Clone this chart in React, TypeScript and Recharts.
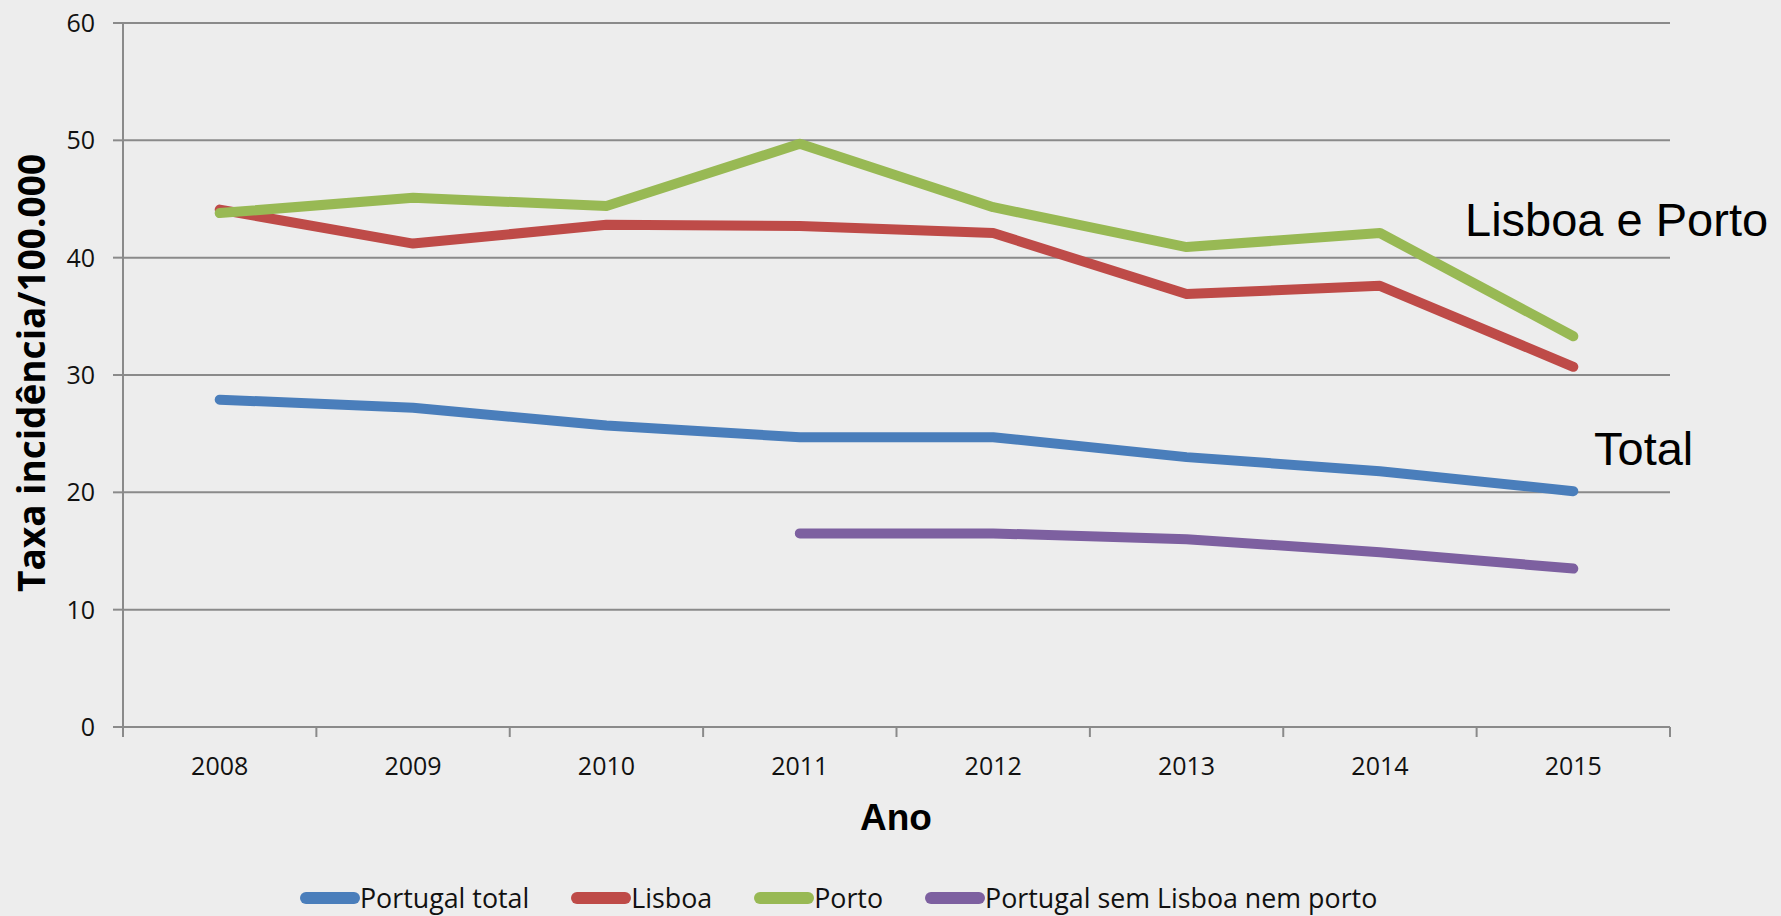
import React from 'react';
import { LineChart, Line, XAxis, YAxis, CartesianGrid } from 'recharts';

const years = ['2008', '2009', '2010', '2011', '2012', '2013', '2014', '2015'];
const portugalTotal = [27.9, 27.2, 25.7, 24.7, 24.7, 23.0, 21.8, 20.1];
const lisboa = [44.1, 41.2, 42.8, 42.7, 42.1, 36.9, 37.6, 30.7];
const porto = [43.8, 45.1, 44.4, 49.7, 44.3, 40.9, 42.1, 33.3];
const semLisboaPorto = [null, null, null, 16.5, 16.5, 16.0, 14.9, 13.5];
const yTicks = [0, 10, 20, 30, 40, 50, 60];

const series = [
  { key: 'total', name: 'Portugal total', color: '#4a7ebb', values: portugalTotal },
  { key: 'lisboa', name: 'Lisboa', color: '#be4b48', values: lisboa },
  { key: 'porto', name: 'Porto', color: '#98b954', values: porto },
  { key: 'resto', name: 'Portugal sem Lisboa nem porto', color: '#7d60a0', values: semLisboaPorto },
];

const data = years.map((year, i) => {
  const row: Record<string, string | number | null> = { year };
  series.forEach(s => { row[s.key] = s.values[i]; });
  return row;
});

const W = 1781;
const H = 916;
const margin = { top: 23, right: 111, bottom: 129, left: 0 };
const yAxisWidth = 123;
const halfBand = (W - margin.right - yAxisWidth) / years.length / 2;
const grey = '#8a8a8a';
const openSans = '"Open Sans", sans-serif';
const arial = '"Liberation Sans", Arial, sans-serif';

function YearTick(props: any) {
  const { x, y, payload, index } = props;
  const axisY = y - 10;
  return (
    <g>
      <line x1={x - halfBand} x2={x - halfBand} y1={axisY} y2={axisY + 10} stroke={grey} strokeWidth={2} />
      {index === years.length - 1 && (
        <line x1={x + halfBand} x2={x + halfBand} y1={axisY} y2={axisY + 10} stroke={grey} strokeWidth={2} />
      )}
      <text x={x} y={y + 38} textAnchor="middle" fontFamily={openSans} fontSize={25} fill="#111">
        {payload.value}
      </text>
    </g>
  );
}

export default function App() {
  return (
    <div style={{ position: 'absolute', left: 0, top: 0, width: W, height: H, background: '#ededed', overflow: 'hidden' }}>
      <LineChart width={W} height={H} data={data} margin={margin}>
        <CartesianGrid vertical={false} stroke={grey} strokeWidth={2} />
        <XAxis
          dataKey="year"
          height={60}
          padding={{ left: halfBand, right: halfBand }}
          tickLine={false}
          tickSize={10}
          tickMargin={0}
          axisLine={{ stroke: grey, strokeWidth: 2 }}
          tick={<YearTick />}
          interval={0}
        />
        <YAxis
          width={yAxisWidth}
          domain={[0, 60]}
          ticks={yTicks}
          tickSize={10}
          tickMargin={18}
          tickLine={{ stroke: grey, strokeWidth: 2 }}
          axisLine={{ stroke: grey, strokeWidth: 2 }}
          tick={{ fontFamily: openSans, fontSize: 25, fill: '#111' }}
        />
        {series.map(s => (
          <Line
            key={s.key}
            dataKey={s.key}
            name={s.name}
            stroke={s.color}
            strokeWidth={10}
            strokeLinecap="round"
            strokeLinejoin="round"
            dot={false}
            activeDot={false}
            type="linear"
            isAnimationActive={false}
          />
        ))}
      </LineChart>

      <svg width={W} height={H} style={{ position: 'absolute', left: 0, top: 0, pointerEvents: 'none' }}>
        <text
          transform="translate(45, 373) rotate(-90)"
          textAnchor="middle"
          fontFamily={openSans}
          fontWeight="bold"
          fontSize={37}
          fill="#000"
        >
          Taxa incidência/100.000
        </text>
        <text x={896} y={830} textAnchor="middle" fontFamily={arial} fontWeight="bold" fontSize={37} fill="#000">
          Ano
        </text>
        <text x={1465} y={236} fontFamily={arial} fontSize={47} fill="#000">
          Lisboa e Porto
        </text>
        <text x={1594} y={465} fontFamily={arial} fontSize={47} fill="#000">
          Total
        </text>
      </svg>

      <div
        style={{
          position: 'absolute',
          left: 300,
          top: 882,
          display: 'flex',
          alignItems: 'center',
          gap: 42,
          fontFamily: openSans,
          fontSize: 26.8,
          color: '#111',
          whiteSpace: 'nowrap',
        }}
      >
        {series.map(s => (
          <div key={s.key} style={{ display: 'flex', alignItems: 'center' }}>
            <span style={{ display: 'inline-block', width: 60, height: 12, borderRadius: 6, background: s.color }} />
            <span style={{ lineHeight: '32px' }}>{s.name}</span>
          </div>
        ))}
      </div>
    </div>
  );
}
